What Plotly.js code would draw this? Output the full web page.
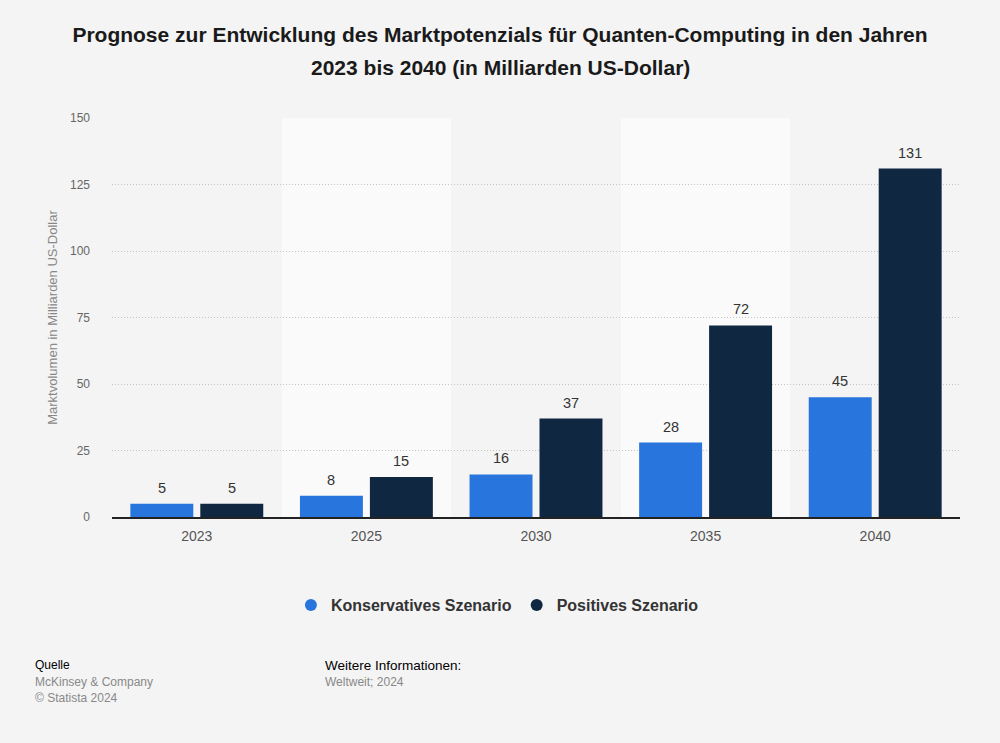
<!DOCTYPE html>
<html><head><meta charset="utf-8">
<script src="https://cdn.plot.ly/plotly-3.0.1.min.js"></script>
<style>body{margin:0;background:#f4f4f4}#c{width:1000px;height:743px}</style>
</head><body><div id="c"></div>
<script>
const years = ["2023","2025","2030","2035","2040"];
const konservativ = [5, 8, 16, 28, 45];
const positiv = [5, 15, 37, 72, 131];
const seriesNames = ["Konservatives Szenario","Positives Szenario"];
const colors = ["#2876dd","#0f2741"];
const titleLines = ["Prognose zur Entwicklung des Marktpotenzials für Quanten-Computing in den Jahren",
                    "2023 bis 2040 (in Milliarden US-Dollar)"];
const font = "Liberation Sans, Arial, Helvetica, sans-serif";

const traces = [
  {type:"bar", x:years, y:konservativ, name:seriesNames[0], marker:{color:colors[0]},
   showlegend:false, hoverinfo:"x+y"},
  {type:"bar", x:years, y:positiv, name:seriesNames[1], marker:{color:colors[1]},
   showlegend:false, hoverinfo:"x+y"},
  {type:"scatter", mode:"markers", x:[null], y:[null], name:seriesNames[0],
   marker:{color:colors[0], size:16, symbol:"circle"}},
  {type:"scatter", mode:"markers", x:[null], y:[null], name:seriesNames[1],
   marker:{color:colors[1], size:16, symbol:"circle"}}
];

const shapes = [];
years.forEach((y,i)=>{
  if(i%2===1){
    shapes.push({type:"rect", xref:"x", yref:"paper", x0:i-0.5, x1:i+0.5, y0:0, y1:1,
      fillcolor:"#fafafa", line:{width:0}, layer:"below"});
  }
});

const annotations = [];
// value labels above bars
[konservativ, positiv].forEach((series, s)=>{
  series.forEach((v,i)=>{
    annotations.push({xref:"x", yref:"y", x:i, y:v, text:String(v), showarrow:false,
      xshift:(s===0?-35:35), yshift:16, yanchor:"middle",
      font:{size:14.5,color:"#333",family:font}});
  });
});
// second title line
const fy = p => (517-p)/399;
const fx = p => (p-112)/848;
annotations.push({xref:"paper", yref:"paper", x:fx(500), y:fy(68), xanchor:"center", yanchor:"middle",
  showarrow:false, text:"<b>"+titleLines[1]+"</b>", font:{size:21,color:"#1a1a1a",family:font}});
// footer
annotations.push(
  {xref:"paper",yref:"paper",x:fx(33),y:fy(665),xanchor:"left",yanchor:"middle",showarrow:false,
   text:"Quelle",font:{size:12,color:"#000",family:font}},
  {xref:"paper",yref:"paper",x:fx(33),y:fy(682),xanchor:"left",yanchor:"middle",showarrow:false,
   text:"McKinsey & Company",font:{size:12,color:"#888",family:font}},
  {xref:"paper",yref:"paper",x:fx(33),y:fy(698),xanchor:"left",yanchor:"middle",showarrow:false,
   text:"© Statista 2024",font:{size:12,color:"#888",family:font}},
  {xref:"paper",yref:"paper",x:fx(323),y:fy(665),xanchor:"left",yanchor:"middle",showarrow:false,
   text:"Weitere Informationen:",font:{size:13.5,color:"#000",family:font}},
  {xref:"paper",yref:"paper",x:fx(323),y:fy(682),xanchor:"left",yanchor:"middle",showarrow:false,
   text:"Weltweit; 2024",font:{size:12,color:"#888",family:font}}
);

const layout = {
  width:1000, height:743,
  paper_bgcolor:"#f4f4f4", plot_bgcolor:"#f4f4f4",
  margin:{l:112, r:40, t:118, b:226},
  font:{family:font, color:"#666"},
  title:{text:"<b>"+titleLines[0]+"</b>",
    font:{size:21,color:"#1a1a1a",family:font}, x:0.5, xanchor:"center", xref:"container",
    y:1-35/743, yanchor:"middle", yref:"container"},
  barmode:"group", bargap:0.175, bargroupgap:0.1,
  xaxis:{type:"category", range:[-0.5, years.length-0.5], autorange:false, showgrid:false,
    showline:true, linecolor:"#222", linewidth:1.5,
    tickfont:{size:14,color:"#555",family:font}, ticks:"", ticklabelstandoff:6, zeroline:false, fixedrange:true},
  yaxis:{range:[0,150], autorange:false, tickvals:[0,25,50,75,100,125,150], showgrid:true, gridcolor:"#c4c4c4",
    griddash:"1px,2px", gridwidth:1, zeroline:false, showline:false, ticks:"",
    tickfont:{size:12,color:"#666",family:font}, ticklabelstandoff:21,
    title:{text:"Marktvolumen in Milliarden US-Dollar", font:{size:13,color:"#888",family:font}, standoff:9}},
  legend:{orientation:"h", x:0.4545, xanchor:"center", y:fy(605), yanchor:"middle",
    font:{size:16,color:"#333",family:font, weight:"bold"}, itemsizing:"constant", traceorder:"normal"},
  shapes:shapes, annotations:annotations
};
Plotly.newPlot("c", traces, layout, {displayModeBar:false, staticPlot:true});
</script></body></html>
